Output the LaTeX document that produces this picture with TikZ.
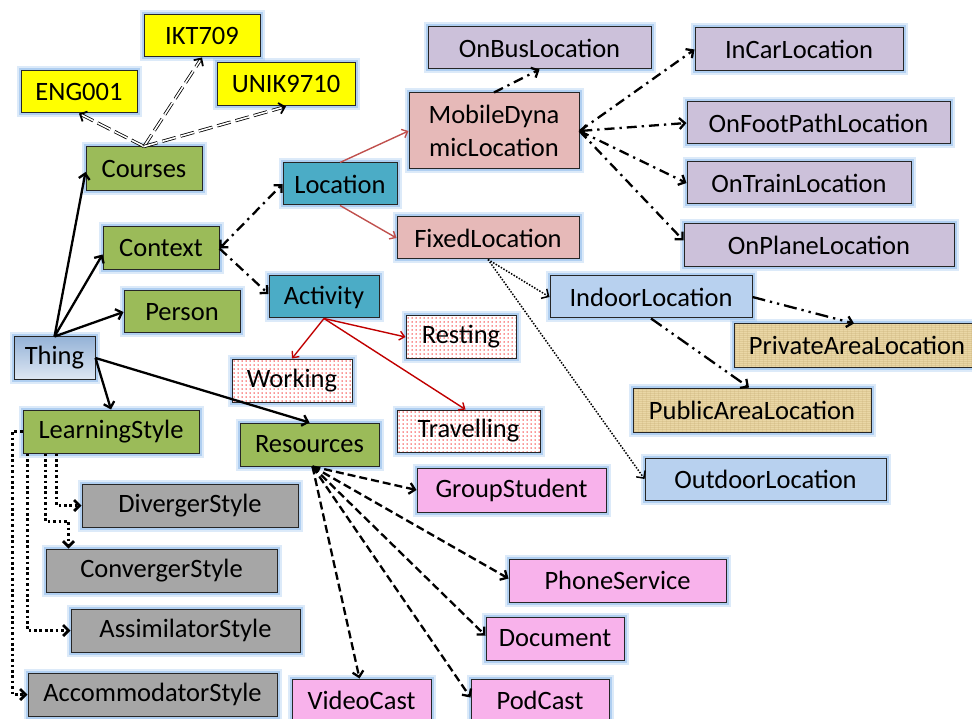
\documentclass[tikz,border=0pt]{standalone}
\usepackage{fontspec}
\setmainfont{Carlito}
\usetikzlibrary{arrows.meta,calc}

\definecolor{glowc}{RGB}{140,185,235}
\definecolor{yel}{RGB}{255,255,0}
\definecolor{grn}{RGB}{155,187,89}
\definecolor{aqua}{RGB}{75,172,198}
\definecolor{rose}{RGB}{230,185,184}
\definecolor{lilac}{RGB}{204,193,218}
\definecolor{lblue}{RGB}{184,209,239}
\definecolor{gry}{RGB}{166,166,166}
\definecolor{pnk}{RGB}{248,178,235}
\definecolor{papyrus}{RGB}{234,215,166}
\definecolor{papyrusdk}{RGB}{200,175,120}
\definecolor{thingtop}{RGB}{149,179,215}
\definecolor{thingbot}{RGB}{222,231,243}
\definecolor{locred}{RGB}{192,80,77}
\definecolor{actred}{RGB}{192,0,0}
\definecolor{dotred}{RGB}{245,40,40}

\tikzset{
  glow/.style={preaction={draw=glowc, line width=9pt, draw opacity=0.3},
               preaction={draw=glowc, line width=5pt, draw opacity=0.55}},
  box/.style={glow, rectangle, draw=black!85, line width=1pt, inner sep=0pt,
              font=\fontsize{26.5}{33}\selectfont, align=center},
  wh/.style 2 args={minimum width=#1pt, minimum height=#2pt},
  % white box sprinkled with a grid of small red dots
  dotbox/.style={box, fill=white,
    path picture={
      \foreach \i in {0,...,37}{
        \foreach \j in {0,...,11}{
          \fill[dotred] ([xshift=\i*4pt+2pt, yshift=-\j*4pt-2pt]path picture bounding box.north west)
            circle (0.75pt);
        }
      }
    }},
  % parchment-like fill with faint fibres
  paperbox/.style={box, fill=papyrus,
    path picture={
      \foreach \j in {0,...,21}{
        \draw[papyrusdk, line width=0.4pt, opacity=0.35]
          ([yshift=-\j*2pt-1pt]path picture bounding box.north west) --
          ([yshift=-\j*2pt-1pt]path picture bounding box.north east);
      }
      \foreach \i in {0,...,60}{
        \draw[papyrusdk, line width=0.3pt, opacity=0.25]
          ([xshift=\i*4pt+1pt]path picture bounding box.north west) --
          ([xshift=\i*4pt+1pt]path picture bounding box.south west);
      }
    }},
  thingbox/.style={box, top color=thingtop, bottom color=thingbot},
  barb/.style={-{Straight Barb[length=5.5pt,width=11pt]}},
  solidarr/.style={barb, line width=2.3pt, black},
  dashdotarr/.style={barb, line width=2.3pt, black,
                     dash pattern=on 10pt off 5pt on 2.3pt off 5pt},
  dashdotdotarr/.style={barb, line width=2.3pt, black,
                     dash pattern=on 13pt off 5pt on 2.3pt off 5pt on 2.3pt off 5pt},
  dashedarr/.style={barb, line width=2.3pt, black, dash pattern=on 8pt off 4pt},
  finedotarr/.style={barb, line width=1.5pt, black, dash pattern=on 1.5pt off 1.5pt},
  bigdotarr/.style={barb, line width=2.7pt, black, dash pattern=on 2.7pt off 2.7pt},
  locarr/.style={-{Straight Barb[length=5pt,width=9pt]}, line width=1.4pt, locred},
  actarr/.style={-{Straight Barb[length=5pt,width=9pt]}, line width=1.4pt, actred},
  dblline/.style={draw=black, line width=0.8pt, double=white, double distance=1.6pt,
                  dash pattern=on 14pt off 5pt, shorten >=3pt},
  dbltip/.style={-{Straight Barb[length=5.5pt,width=11pt]}, line width=1.8pt, black},
  bothbarb/.style={{Straight Barb[length=5.5pt,width=11pt]}-{Straight Barb[length=5.5pt,width=11pt]}},
}

\begin{document}
\begin{tikzpicture}[x=1pt, y=-1pt]
\useasboundingbox (0,0) rectangle (972,719);

% ---------- boxes ----------
\node[box, fill=yel, wh={116}{42}] (ikt)  at (202,36)    {IKT709};
\node[box, fill=yel, wh={116}{42}] (eng)  at (79,92)     {ENG001};
\node[box, fill=yel, wh={138}{43}] (unik) at (286,84.5)  {UNIK9710};

\node[box, fill=grn, wh={116}{44}] (courses) at (144,169)   {Courses};
\node[box, fill=grn, wh={116}{43}] (context) at (161,248.5) {Context};
\node[box, fill=grn, wh={116}{42}] (person)  at (182,312)   {Person};
\node[box, fill=grn, wh={176}{43}] (ls)      at (111,431.5) {LearningStyle};
\node[box, fill=grn, wh={139}{43}] (res)     at (309.5,444.5) {Resources};

\node[thingbox, wh={81}{42}] (thing) at (54.5,358) {Thing};

\node[box, fill=aqua, wh={114}{42}] (loc) at (340,184) {Location};
\node[box, fill=aqua, wh={110}{42}] (act) at (324,297) {Activity};

\node[dotbox, wh={120}{43}] (work)   at (292,380.5) {Working};
\node[dotbox, wh={110}{42}] (rest)   at (461,337)   {Resting};
\node[dotbox, wh={143}{42}] (travel) at (468.5,431) {Travelling};

\node[box, fill=rose, wh={170}{76}] (mobile) at (494,131) {MobileDyna\\micLocation};
\node[box, fill=rose, wh={182}{42}] (fixed)  at (488,238) {FixedLocation};

\node[box, fill=lilac, wh={223}{42}] (bus)   at (539.5,48)  {OnBusLocation};
\node[box, fill=lilac, wh={208}{43}] (car)   at (799,49.5)  {InCarLocation};
\node[box, fill=lilac, wh={263}{42}] (foot)  at (818.5,123) {OnFootPathLocation};
\node[box, fill=lilac, wh={224}{42}] (train) at (799,183)   {OnTrainLocation};
\node[box, fill=lilac, wh={270}{43}] (plane) at (819,245.5) {OnPlaneLocation};

\node[box, fill=lblue, wh={202}{42}] (indoor)  at (651,297)   {IndoorLocation};
\node[box, fill=lblue, wh={241}{42}] (outdoor) at (765.5,479) {OutdoorLocation};

\node[paperbox, wh={246}{43}] (private) at (857,345.5) {PrivateAreaLocation};
\node[paperbox, wh={238}{44}] (public)  at (752,410)   {PublicAreaLocation};

\node[box, fill=pnk, wh={189}{44}] (group) at (511.5,490)   {GroupStudent};
\node[box, fill=pnk, wh={217}{43}] (phone) at (617.5,580.5) {PhoneService};
\node[box, fill=pnk, wh={138}{43}] (doc)   at (555,638.5)   {Document};
\node[box, fill=pnk, wh={138}{43}] (pod)   at (540,700.5)   {PodCast};
\node[box, fill=pnk, wh={139}{43}] (video) at (361.5,700.5) {VideoCast};

\node[box, fill=gry, wh={216}{43}] (div)   at (190,505.5)   {DivergerStyle};
\node[box, fill=gry, wh={231}{43}] (conv)  at (161.5,570.5) {ConvergerStyle};
\node[box, fill=gry, wh={229}{43}] (assim) at (185.5,630.5) {AssimilatorStyle};
\node[box, fill=gry, wh={249}{43}] (accom) at (152.5,694.5) {AccommodatorStyle};

% ---------- Thing and its direct subclasses ----------
\draw[solidarr] (thing.north) -- ([yshift=-3pt]courses.west);
\draw[solidarr] (thing.north) -- ([yshift=-6pt]context.west);
\draw[solidarr] (thing.north) -- (person.west);
\draw[solidarr] (thing.east) -- (ls.north);
\draw[solidarr] (thing.east) -- (res.north);

% ---------- courses (double dashed) ----------
\foreach \c in {eng, ikt, unik}{
  \draw[dblline] (courses.north) -- (\c.south);
  \draw[dbltip] ($(courses.north)!0.97!(\c.south)$) -- (\c.south);
}

% ---------- context ----------
\draw[dashdotarr, bothbarb] (context.east) -- (loc.west);
\draw[dashdotarr] (context.east) -- ([yshift=3pt]act.west);

% ---------- location ----------
\draw[locarr] (loc.north) -- (mobile.west);
\draw[locarr] (loc.south) -- (fixed.west);

\draw[dashdotarr] (mobile.north) -- (bus.south);
\draw[dashdotarr, bothbarb] (mobile.east) -- (foot.west);
\draw[dashdotarr] (mobile.east) -- (car.west);
\draw[dashdotarr] (mobile.east) -- (train.west);
\draw[dashdotarr] (mobile.east) -- ([yshift=5pt]plane.west);

\draw[finedotarr] (fixed.south) -- (indoor.west);
\draw[finedotarr] (fixed.south) -- (outdoor.west);

\draw[dashdotdotarr] (indoor.east) -- ([xshift=-3pt]private.north);
\draw[dashdotdotarr] (indoor.south) -- ([xshift=-3pt]public.north);

% ---------- activity ----------
\draw[actarr] (act.south) -- (work.north);
\draw[actarr] (act.south) -- (rest.west);
\draw[actarr] (act.south) -- ([xshift=-3pt]travel.north);

% ---------- resources ----------
\draw[dashedarr] ([xshift=3pt]res.south) -- (group.west);
\draw[dashedarr] ([xshift=3pt]res.south) -- ([yshift=2pt]phone.west);
\draw[dashedarr] ([xshift=3pt]res.south) -- ([yshift=3pt]doc.west);
\draw[dashedarr] ([xshift=3pt]res.south) -- ([yshift=3pt]pod.west);
\draw[dashedarr] ([xshift=3pt]res.south) -- ([xshift=-2pt]video.north);

% ---------- learning styles ----------
\draw[bigdotarr] ([xshift=34pt]ls.south west) |- (div.west);
\draw[bigdotarr] ([xshift=23pt]ls.south west) |- ([xshift=23pt,yshift=27pt]conv.north west)
                 -- ([xshift=23pt]conv.north west);
\draw[bigdotarr] ([xshift=5pt]ls.south west) |- (assim.west);
\draw[bigdotarr] (ls.west) -- ++(-10,0) |- (accom.west);

\end{tikzpicture}
\end{document}
